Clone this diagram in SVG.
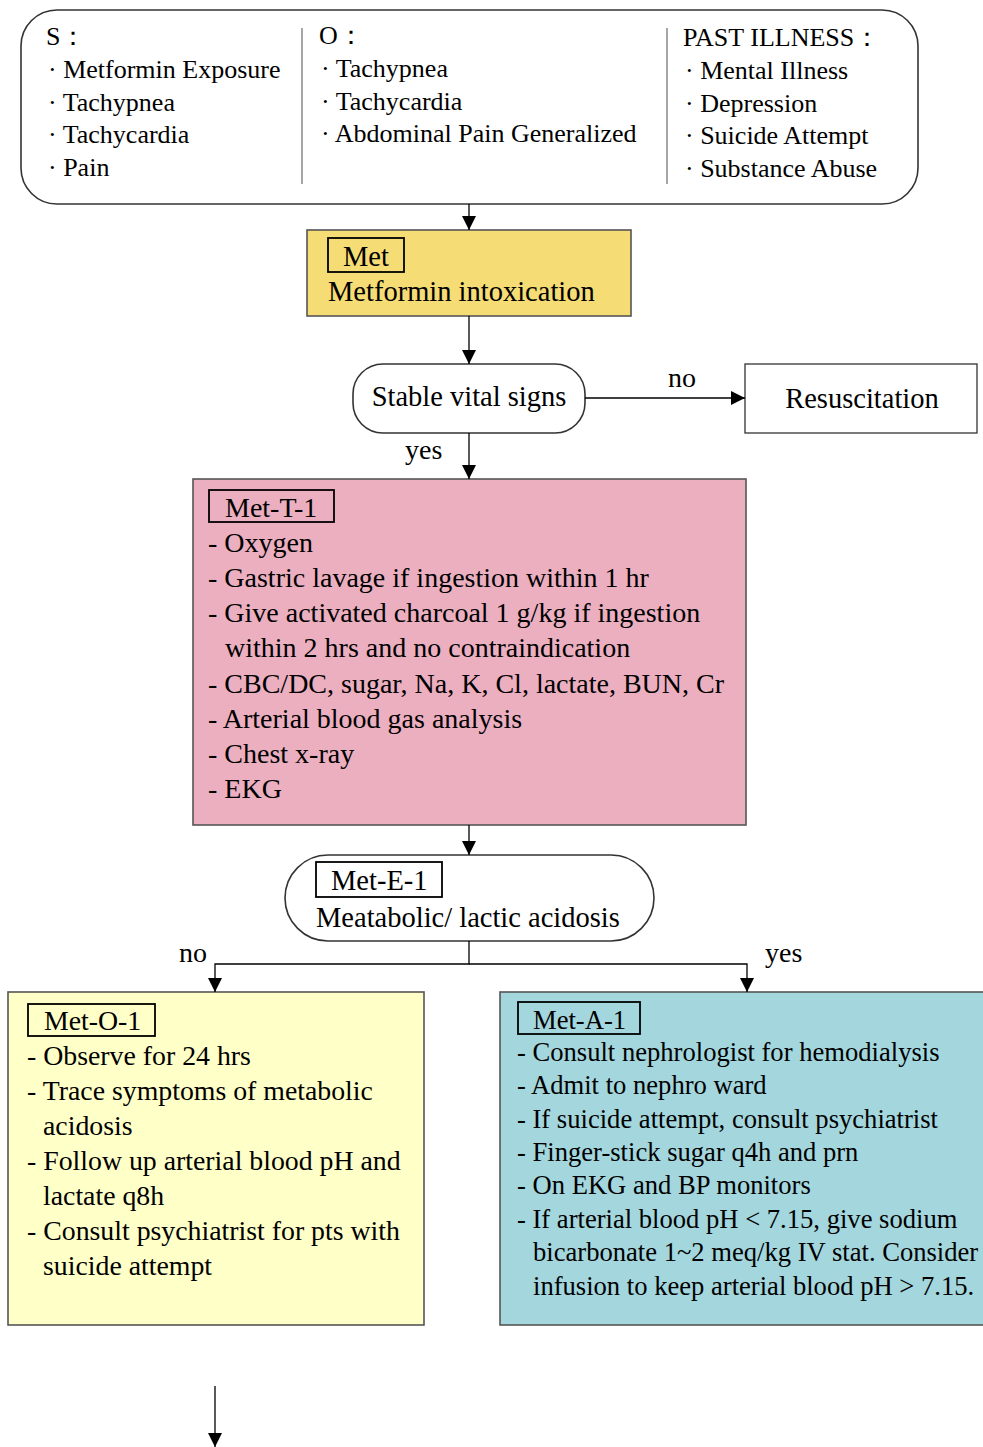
<svg xmlns="http://www.w3.org/2000/svg" width="983" height="1447" viewBox="0 0 983 1447">
<defs>
<style>
text{font-family:"Liberation Serif","Times New Roman",serif;fill:#000;}
.top{font-size:26px;}
.big{font-size:28.5px;}
.tt{font-size:28px;}
.oo{font-size:27.8px;}
.aa{font-size:26.6px;}
.box{stroke:#555;stroke-width:1.6;}
.lab{fill:none;stroke:#000;stroke-width:1.8;}
.con{fill:none;stroke:#000;stroke-width:1.3;}
.div{stroke:#777;stroke-width:1.3;}
</style>
<marker id="ah" markerUnits="userSpaceOnUse" markerWidth="14" markerHeight="16" refX="14" refY="7" orient="auto">
<path d="M0,0 L14,7 L0,14 Z" fill="#000"/>
</marker>
</defs>
<rect width="983" height="1447" fill="#fff"/>

<g id="soap">
<rect x="21" y="10" width="897" height="194" rx="36" ry="36" fill="#fff" stroke="#333" stroke-width="1.6"/>
<line class="div" x1="302" y1="28" x2="302" y2="184"/>
<line class="div" x1="667" y1="28" x2="667" y2="184"/>
<g class="top">
<text x="46" y="45">S：</text>
<text x="48" y="78">· Metformin Exposure</text>
<text x="48" y="111">· Tachypnea</text>
<text x="48" y="143">· Tachycardia</text>
<text x="48" y="176">· Pain</text>
<text x="319" y="44">O：</text>
<text x="321" y="77">· Tachypnea</text>
<text x="321" y="110">· Tachycardia</text>
<text x="321" y="142">· Abdominal Pain Generalized</text>
<text x="683" y="46">PAST ILLNESS：</text>
<text x="685" y="79">· Mental Illness</text>
<text x="685" y="112">· Depression</text>
<text x="685" y="144">· Suicide Attempt</text>
<text x="685" y="177">· Substance Abuse</text>
</g>
</g>

<g id="met">
<rect class="box" x="307" y="230" width="324" height="86" fill="#f6dc74"/>
<rect class="lab" x="328" y="238" width="76" height="34"/>
<text class="big" x="343" y="266">Met</text>
<text class="big" x="328" y="301">Metformin intoxication</text>
</g>

<g id="stable">
<rect x="353" y="364" width="232" height="69" rx="30" ry="30" fill="#fff" stroke="#333" stroke-width="1.6"/>
<text class="big" x="469" y="406" text-anchor="middle">Stable vital signs</text>
</g>

<g id="resus">
<rect x="745" y="364" width="232" height="69" fill="#fff" stroke="#333" stroke-width="1.3"/>
<text class="big" x="862" y="408" text-anchor="middle">Resuscitation</text>
</g>

<g id="met-t-1">
<rect class="box" x="193" y="479" width="553" height="346" fill="#ebafc0"/>
<rect class="lab" x="209" y="490" width="125" height="32"/>
<g class="tt">
<text x="225" y="517">Met-T-1</text>
<text x="208" y="552">- Oxygen</text>
<text x="208" y="587">- Gastric lavage if ingestion within 1 hr</text>
<text x="208" y="622">- Give activated charcoal 1 g/kg if ingestion</text>
<text x="225" y="657">within 2 hrs and no contraindication</text>
<text x="208" y="693">- CBC/DC, sugar, Na, K, Cl, lactate, BUN, Cr</text>
<text x="208" y="728">- Arterial blood gas analysis</text>
<text x="208" y="763">- Chest x-ray</text>
<text x="208" y="798">- EKG</text>
</g>
</g>

<g id="met-e-1">
<rect x="285" y="855" width="369" height="86" rx="43" ry="43" fill="#fff" stroke="#333" stroke-width="1.6"/>
<rect class="lab" x="316" y="862" width="126" height="35"/>
<text class="big" x="331" y="890">Met-E-1</text>
<text class="big" x="316" y="927">Meatabolic/ lactic acidosis</text>
</g>

<g id="met-o-1">
<rect class="box" x="8" y="992" width="416" height="333" fill="#ffffc8"/>
<rect class="lab" x="28" y="1004" width="127" height="32"/>
<g class="oo">
<text x="44" y="1030">Met-O-1</text>
<text x="27" y="1065">- Observe for 24 hrs</text>
<text x="27" y="1100">- Trace symptoms of metabolic</text>
<text x="43" y="1135">acidosis</text>
<text x="27" y="1170">- Follow up arterial blood pH and</text>
<text x="43" y="1205">lactate q8h</text>
<text x="27" y="1240">- Consult psychiatrist for pts with</text>
<text x="43" y="1275">suicide attempt</text>
</g>
</g>

<g id="met-a-1">
<rect class="box" x="500" y="992" width="490" height="333" fill="#a3d6dd"/>
<rect class="lab" x="518" y="1002" width="122" height="32"/>
<g class="aa">
<text x="533" y="1029">Met-A-1</text>
<text x="517" y="1061">- Consult nephrologist for hemodialysis</text>
<text x="517" y="1094">- Admit to nephro ward</text>
<text x="517" y="1128">- If suicide attempt, consult psychiatrist</text>
<text x="517" y="1161">- Finger-stick sugar q4h and prn</text>
<text x="517" y="1194">- On EKG and BP monitors</text>
<text x="517" y="1228">- If arterial blood pH &lt; 7.15, give sodium</text>
<text x="533" y="1261">bicarbonate 1~2 meq/kg IV stat. Consider</text>
<text x="533" y="1295">infusion to keep arterial blood pH &gt; 7.15.</text>
</g>
</g>

<g id="connectors">
<line class="con" x1="469" y1="204" x2="469" y2="230" marker-end="url(#ah)"/>
<line class="con" x1="469" y1="316" x2="469" y2="364" marker-end="url(#ah)"/>
<line class="con" x1="585" y1="398" x2="745" y2="398" marker-end="url(#ah)"/>
<line class="con" x1="469" y1="433" x2="469" y2="479" marker-end="url(#ah)"/>
<line class="con" x1="469" y1="825" x2="469" y2="855" marker-end="url(#ah)"/>
<polyline class="con" points="469,941 469,964 215,964 215,992" marker-end="url(#ah)"/>
<polyline class="con" points="469,964 747,964 747,992" marker-end="url(#ah)"/>
<line class="con" x1="215" y1="1386" x2="215" y2="1447" marker-end="url(#ah)"/>
<text class="tt" x="668" y="387">no</text>
<text class="tt" x="405" y="459">yes</text>
<text class="tt" x="179" y="962">no</text>
<text class="tt" x="765" y="962">yes</text>
</g>
</svg>
